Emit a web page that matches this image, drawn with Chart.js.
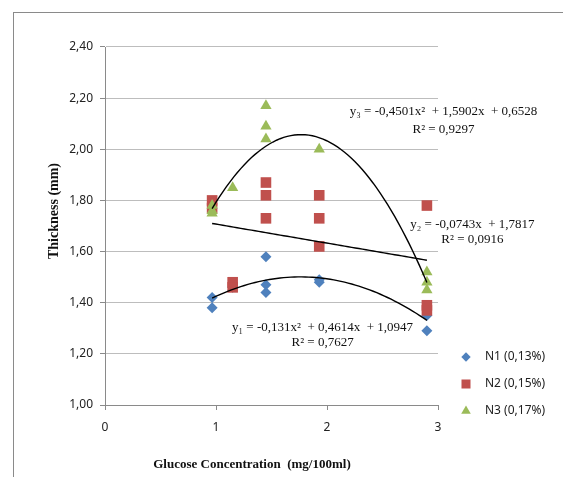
<!DOCTYPE html>
<html lang="en">
<head>
    <meta charset="UTF-8">
    <title>Thickness vs Glucose Concentration</title>
    <style>
        body {
            margin: 0;
            padding: 0;
            background-color: #fff;
        }

        .wrap {
            position: relative;
            width: 563px;
            height: 477px;
            overflow: hidden;
        }

        #thicknessChart {
            position: absolute;
            left: 0;
            top: 0;
        }

        /* the screenshot only shows the top and left edge of the chart frame */
        .frame {
            position: absolute;
            left: 13px;
            top: 12px;
            width: 700px;
            height: 700px;
            border-top: 1px solid #8a8a8a;
            border-left: 1px solid #8a8a8a;
            pointer-events: none;
        }
    </style>
</head>
<body>

<div class="wrap">
    <canvas id="thicknessChart" width="563" height="477"></canvas>
    <div class="frame"></div>
</div>

<script src="https://cdn.jsdelivr.net/npm/chart.js"></script>
<script>
// --- data ---
const n1X = [0.965, 0.965, 1.15, 1.45, 1.45, 1.45, 1.93, 1.93, 2.9, 2.9];
const n1Y = [1.42, 1.38, 1.46, 1.58, 1.47, 1.44, 1.48, 1.49, 1.35, 1.29];

const n2X = [0.965, 0.965, 1.15, 1.15, 1.45, 1.45, 1.45, 1.93, 1.93, 1.93, 2.9, 2.9, 2.9];
const n2Y = [1.80, 1.77, 1.48, 1.46, 1.87, 1.82, 1.73, 1.82, 1.73, 1.62, 1.78, 1.39, 1.37];

const n3X = [0.965, 0.965, 0.965, 1.15, 1.45, 1.45, 1.45, 1.93, 2.9, 2.9, 2.9];
const n3Y = [1.78, 1.76, 1.75, 1.85, 2.17, 2.09, 2.04, 2.00, 1.52, 1.48, 1.45];

const seriesNames = ['N1 (0,13%)', 'N2 (0,15%)', 'N3 (0,17%)'];

// trendline coefficients as printed on the chart: [x², x, const]
const fit1 = [-0.131, 0.4614, 1.0947];
const fit2 = [0, -0.0743, 1.7817];
const fit3 = [-0.4501, 1.5902, 0.6528];
const fitRange = [0.965, 2.9];

const fitText1 = ['y\u2081 = -0,131x\u00b2  + 0,4614x  + 1,0947', 'R\u00b2 = 0,7627'];
const fitText2 = ['y\u2082 = -0,0743x  + 1,7817', 'R\u00b2 = 0,0916'];
const fitText3 = ['y\u2083 = -0,4501x\u00b2  + 1,5902x  + 0,6528', 'R\u00b2 = 0,9297'];

const xTickLabels = ['0', '1', '2', '3'];
const yTickLabels = ['1,00', '1,20', '1,40', '1,60', '1,80', '2,00', '2,20', '2,40'];

const xTitle = 'Glucose Concentration  (mg/100ml)';
const yTitle = 'Thickness (mm)';

// --- styling ---
const colors = ['#4f81bd', '#c0504d', '#9bbb59'];
const shapes = ['rectRot', 'rect', 'triangle'];
const radii = [5.5, 7.5, 6.5];
const serif = '"Liberation Serif", "Times New Roman", serif';
const sans = '"Noto Sans", "Open Sans", sans-serif';

function toPoints(xs, ys) {
    return xs.map((x, i) => ({ x: x, y: ys[i] }));
}

function trendPoints(c) {
    const pts = [];
    const steps = 60;
    for (let i = 0; i <= steps; i++) {
        const x = fitRange[0] + (fitRange[1] - fitRange[0]) * i / steps;
        pts.push({ x: x, y: c[0] * x * x + c[1] * x + c[2] });
    }
    return pts;
}

function scatterSet(i, xs, ys) {
    return {
        label: seriesNames[i],
        data: toPoints(xs, ys),
        showLine: false,
        pointStyle: shapes[i],
        pointRadius: radii[i],
        pointHoverRadius: radii[i],
        backgroundColor: colors[i],
        borderColor: colors[i],
        borderWidth: 0,
        order: 3 - i
    };
}

function trendSet(c) {
    return {
        label: 'trend',
        data: trendPoints(c),
        showLine: true,
        pointRadius: 0,
        borderColor: '#000',
        borderWidth: 1.4,
        tension: 0,
        fill: false,
        order: 0
    };
}

// equation boxes, anchored in data units (centre of each text line)
const fitLabels = [
    { lines: fitText3, x: 3.05, y: [2.146, 2.077] },
    { lines: fitText2, x: 3.31, y: [1.704, 1.645] },
    { lines: fitText1, x: 1.96, y: [1.301, 1.246] }
];

const fitLabelPlugin = {
    id: 'fitLabels',
    afterDatasetsDraw(chart) {
        const ctx = chart.ctx;
        const xs = chart.scales.x;
        const ys = chart.scales.y;
        ctx.save();
        ctx.font = '13px ' + serif;
        ctx.fillStyle = '#111';
        ctx.textAlign = 'center';
        ctx.textBaseline = 'middle';
        fitLabels.forEach(lbl => {
            lbl.lines.forEach((t, j) => {
                ctx.fillText(t, xs.getPixelForValue(lbl.x), ys.getPixelForValue(lbl.y[j]));
            });
        });
        ctx.restore();
    }
};

// axis titles: Excel placed them a bit off the plot centre
const axisTitlePlugin = {
    id: 'axisTitles',
    afterDraw(chart) {
        const ctx = chart.ctx;
        const area = chart.chartArea;
        ctx.save();
        ctx.fillStyle = '#111';
        ctx.textAlign = 'center';
        ctx.textBaseline = 'middle';
        ctx.font = 'bold 13px ' + serif;
        ctx.fillText(xTitle, area.left + 147, area.bottom + 60);
        ctx.font = 'bold 14px ' + serif;
        ctx.translate(area.left - 51, area.top + 164);
        ctx.rotate(-Math.PI / 2);
        ctx.fillText(yTitle, 0, 0);
        ctx.restore();
    }
};

// legend in the lower right, outside the plot area
const sideLegendPlugin = {
    id: 'sideLegend',
    afterDraw(chart) {
        const ctx = chart.ctx;
        const area = chart.chartArea;
        const rowGap = 27;
        ctx.save();
        ctx.font = '12px ' + sans;
        ctx.textBaseline = 'middle';
        ctx.textAlign = 'left';
        seriesNames.forEach((name, i) => {
            const y = area.bottom - 48 + i * rowGap;
            ctx.fillStyle = colors[i];
            ctx.strokeStyle = colors[i];
            Chart.helpers.drawPoint(ctx, {
                pointStyle: shapes[i],
                radius: radii[i] * 0.85,
                rotation: 0,
                borderWidth: 0
            }, area.right + 28, y);
            ctx.fillStyle = '#222';
            ctx.fillText(name, area.right + 47, y);
        });
        ctx.restore();
    }
};

const ctx = document.getElementById('thicknessChart').getContext('2d');
new Chart(ctx, {
    type: 'scatter',
    data: {
        datasets: [
            scatterSet(0, n1X, n1Y),
            scatterSet(1, n2X, n2Y),
            scatterSet(2, n3X, n3Y),
            trendSet(fit1),
            trendSet(fit2),
            trendSet(fit3)
        ]
    },
    options: {
        responsive: false,
        animation: false,
        layout: {
            padding: { left: 0, top: 47, right: 125, bottom: 0 }
        },
        plugins: {
            legend: { display: false },
            tooltip: { enabled: false }
        },
        scales: {
            x: {
                type: 'linear',
                min: 0,
                max: 3,
                afterFit: s => { s.height = 72; },
                afterBuildTicks: s => {
                    s.ticks = xTickLabels.map((t, i) => ({ value: i }));
                },
                ticks: {
                    callback: (v, i) => xTickLabels[i],
                    color: '#222',
                    padding: 10,
                    font: { family: sans, size: 12 }
                },
                grid: {
                    display: true,
                    drawOnChartArea: false,
                    drawTicks: true,
                    tickLength: 5,
                    color: '#8a8a8a'
                },
                border: { color: '#8a8a8a', width: 1 },
                title: { display: false }
            },
            y: {
                type: 'linear',
                min: 1,
                max: 2.4,
                afterFit: s => { s.width = 105; },
                afterBuildTicks: s => {
                    s.ticks = yTickLabels.map((t, i) => ({ value: 1 + i * 0.2 }));
                },
                ticks: {
                    callback: (v, i) => yTickLabels[i],
                    color: '#222',
                    padding: 7,
                    font: { family: sans, size: 12 }
                },
                grid: {
                    color: '#bdbdbd',
                    tickColor: '#8a8a8a',
                    tickLength: 5,
                    lineWidth: 1
                },
                border: { color: '#8a8a8a', width: 1 },
                title: { display: false }
            }
        }
    },
    plugins: [fitLabelPlugin, axisTitlePlugin, sideLegendPlugin]
});
</script>

</body>
</html>
